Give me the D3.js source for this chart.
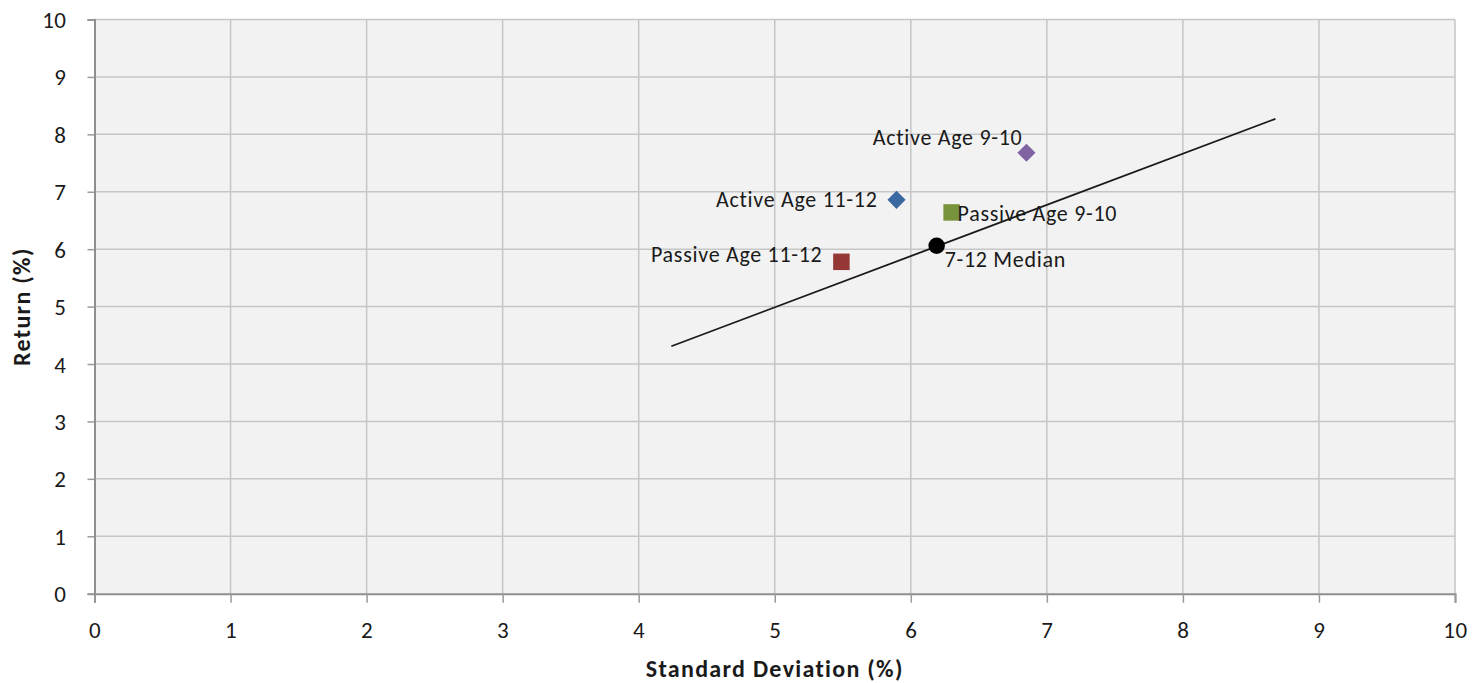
<!DOCTYPE html>
<html>
<head>
<meta charset="utf-8">
<script src="https://cdn.jsdelivr.net/npm/d3@7/dist/d3.min.js"></script>
<style>
  html, body { margin: 0; padding: 0; background: #ffffff; }
  svg { display: block; }
  text { font-family: Calibri, Carlito, "Liberation Sans", Arial, sans-serif; fill: #1a1a1a; }
</style>
</head>
<body>
<svg id="chart" width="1484" height="683"></svg>
<script>
// ---- Data ----
const seriesNames = ["Active Age 9-10", "Active Age 11-12", "Passive Age 9-10", "Passive Age 11-12", "7-12 Median"];
const stdDev     = [6.85, 5.895, 6.30, 5.49, 6.19];
const returns    = [7.68, 6.86, 6.64, 5.78, 6.06];
const markerShapes = ["diamond", "diamond", "square", "square", "circle"];
const markerColors = ["#8064A2", "#3A68A0", "#77933C", "#953735", "#000000"];
const trendX = [4.24, 8.68];
const trendY = [4.31, 8.27];
const xTicks = [0, 1, 2, 3, 4, 5, 6, 7, 8, 9, 10];
const yTicks = [0, 1, 2, 3, 4, 5, 6, 7, 8, 9, 10];
const xTitle = "Standard Deviation (%)";
const yTitle = "Return (%)";

(function () {
// ---- Layout ----
const svg = d3.select("#chart");
const pLeft = 94.5, pRight = 1455, pTop = 19.5, pBottom = 593.7;
const x = d3.scaleLinear().domain([0, 10]).range([pLeft, pRight]);
const y = d3.scaleLinear().domain([0, 10]).range([pBottom, pTop]);
const FONT = 'Calibri, Carlito, "Liberation Sans", Arial, sans-serif';

// plot background
svg.append("rect")
  .attr("x", pLeft).attr("y", pTop)
  .attr("width", pRight - pLeft).attr("height", pBottom - pTop)
  .attr("fill", "#f2f2f2");

// gridlines
const grid = svg.append("g");
grid.selectAll("line.v").data(xTicks.filter(d => d > 0)).join("line")
  .attr("x1", d => x(d)).attr("x2", d => x(d))
  .attr("y1", pTop).attr("y2", pBottom)
  .attr("stroke", "#c6c6c6").attr("stroke-width", 1.5);
grid.selectAll("line.h").data(yTicks.filter(d => d > 0)).join("line")
  .attr("x1", pLeft).attr("x2", pRight)
  .attr("y1", d => y(d)).attr("y2", d => y(d))
  .attr("stroke", "#c6c6c6").attr("stroke-width", 1.5);

// axes
const xAxis = d3.axisBottom(x).tickValues(xTicks).tickSize(9).tickFormat(d3.format("d"));
const yAxis = d3.axisLeft(y).tickValues(yTicks).tickSize(7).tickPadding(21).tickFormat(d3.format("d"));

const gx = svg.append("g").attr("transform", `translate(0,${pBottom})`).call(xAxis);
const gy = svg.append("g").attr("transform", `translate(${pLeft},0)`).call(yAxis);
[gx, gy].forEach(g => {
  g.select(".domain").attr("stroke", "#8e8e8e").attr("stroke-width", 2);
  g.selectAll(".tick line").attr("stroke", "#9a9a9a").attr("stroke-width", 1.5);
  g.selectAll(".tick text").attr("font-size", 23).attr("fill", "#1a1a1a")
    .style("font-family", FONT).style("letter-spacing", "0.5px");
});
gx.selectAll(".tick text").attr("y", 36.5).attr("dy", null).attr("dominant-baseline", "central");
gy.selectAll(".tick text").attr("dy", null).attr("dominant-baseline", "central");

// axis titles
svg.append("text")
  .attr("x", (pLeft + pRight) / 2).attr("y", 668.5)
  .attr("text-anchor", "middle").attr("dominant-baseline", "central")
  .attr("font-size", 24).attr("font-weight", "bold")
  .style("letter-spacing", "1.3px")
  .text(xTitle);
svg.append("text")
  .attr("transform", `translate(21,${(pTop + pBottom) / 2}) rotate(-90)`)
  .attr("text-anchor", "middle").attr("dominant-baseline", "central")
  .attr("font-size", 24).attr("font-weight", "bold")
  .style("letter-spacing", "1.3px")
  .text(yTitle);

// trendline
svg.append("line")
  .attr("x1", x(trendX[0])).attr("y1", y(trendY[0]))
  .attr("x2", x(trendX[1])).attr("y2", y(trendY[1]))
  .attr("stroke", "#1a1a1a").attr("stroke-width", 1.8);

// markers
const symbolSize = { diamond: 165, square: 272, circle: 214 };
const pts = seriesNames.map((n, i) => ({ name: n, sx: stdDev[i], ry: returns[i], shape: markerShapes[i], color: markerColors[i] }));

svg.append("g").selectAll("path").data(pts).join("path")
  .attr("transform", d => `translate(${x(d.sx)},${y(d.ry)})` + (d.shape === "diamond" ? " rotate(45)" : ""))
  .attr("d", d => d3.symbol().type(d.shape === "circle" ? d3.symbolCircle : d3.symbolSquare).size(symbolSize[d.shape])())
  .attr("fill", d => d.color);

// data labels (Excel-style placement offsets, in px)
const labelPlacement = [
  { anchor: "end",   dx: -4,  dy: -7.5 },
  { anchor: "end",   dx: -19, dy: 7 },
  { anchor: "start", dx: 6,   dy: 8.5 },
  { anchor: "end",   dx: -19, dy: 0 },
  { anchor: "start", dx: 8,   dy: 21.5 }
];
svg.append("g").selectAll("text").data(pts).join("text")
  .attr("x", (d, i) => x(d.sx) + labelPlacement[i].dx)
  .attr("y", (d, i) => y(d.ry) + labelPlacement[i].dy)
  .attr("text-anchor", (d, i) => labelPlacement[i].anchor)
  .attr("font-size", 22)
  .style("letter-spacing", "0.7px")
  .text(d => d.name);
})();
</script>
</body>
</html>
